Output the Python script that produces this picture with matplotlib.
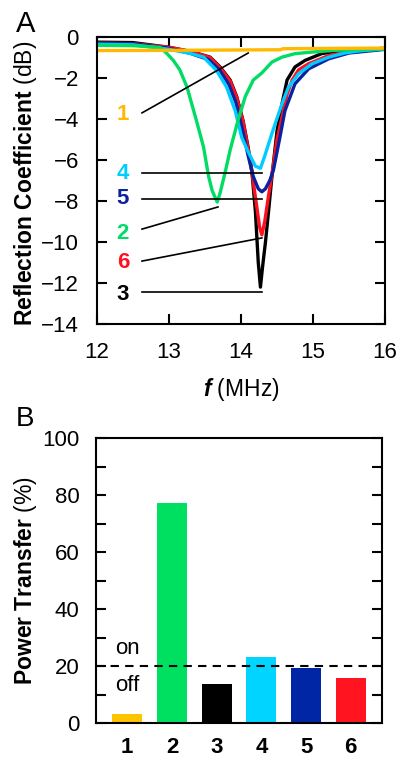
import matplotlib
matplotlib.use("Agg")
import matplotlib.pyplot as plt

plt.rcParams["font.family"] = ["Liberation Sans", "DejaVu Sans"]
plt.rcParams["mathtext.fontset"] = "custom"
plt.rcParams["mathtext.rm"] = "Liberation Sans"
plt.rcParams["mathtext.bf"] = "Liberation Sans:bold"
plt.rcParams["mathtext.it"] = "Liberation Sans:italic"
plt.rcParams["mathtext.bfit"] = "Liberation Sans:bold:italic"

# ---- panel A: reflection spectra ----
F1 = [12.0, 13.0, 14.0, 14.55, 14.58, 15.0, 16.0]
S1 = [-0.66, -0.65, -0.63, -0.62, -0.57, -0.56, -0.54]

F2 = [12.0, 12.5, 12.875, 12.97, 13.06, 13.15, 13.25, 13.38, 13.48, 13.55, 13.6, 13.67,
      13.71, 13.78, 13.85, 13.96, 14.06, 14.17, 14.29, 14.43, 14.57, 14.75, 15.0, 15.3, 16.0]
S2 = [-0.4, -0.42, -0.5, -0.8, -1.14, -1.6, -2.44, -4.06, -5.37, -6.8, -7.5, -8.05,
      -7.6, -6.6, -5.5, -4.05, -2.9, -2.1, -1.75, -1.22, -0.98, -0.81, -0.73, -0.65, -0.58]

F3 = [12.0, 12.5, 13.0, 13.3, 13.57, 13.71, 13.85, 13.94, 14.03, 14.1, 14.15, 14.2, 14.24,
      14.27, 14.3, 14.34, 14.38, 14.43, 14.5, 14.57, 14.64, 14.75, 14.89, 15.12, 15.36, 15.7, 16.0]
S3 = [-0.25, -0.27, -0.5, -0.7, -0.98, -1.46, -2.1, -2.9, -4.1, -5.4, -6.5, -8.5, -11.0,
      -12.2, -11.2, -10.0, -8.6, -6.8, -4.6, -3.25, -2.1, -1.46, -1.14, -0.81, -0.68, -0.6, -0.55]

F4 = [12.0, 12.5, 13.0, 13.3, 13.48, 13.66, 13.8, 13.92, 14.01, 14.1, 14.2, 14.27, 14.33,
      14.43, 14.57, 14.66, 14.8, 14.99, 15.22, 15.44, 15.63, 16.0]
S4 = [-0.35, -0.38, -0.6, -0.8, -0.98, -1.63, -2.44, -3.6, -4.9, -5.6, -6.3, -6.4, -5.8,
      -4.7, -3.25, -2.44, -1.79, -1.3, -0.98, -0.78, -0.68, -0.58]

F5 = [12.0, 12.5, 13.0, 13.3, 13.55, 13.7, 13.83, 13.93, 14.02, 14.1, 14.17, 14.24, 14.29,
      14.34, 14.4, 14.45, 14.54, 14.61, 14.75, 14.94, 15.22, 15.5, 16.0]
S5 = [-0.3, -0.33, -0.55, -0.8, -1.1, -1.6, -2.3, -3.2, -4.5, -5.8, -6.8, -7.4, -7.55,
      -7.4, -7.0, -6.5, -4.9, -3.6, -2.28, -1.55, -1.06, -0.78, -0.6]

F6 = [12.0, 12.5, 13.0, 13.3, 13.57, 13.71, 13.85, 13.94, 14.03, 14.1, 14.16, 14.22, 14.26,
      14.29, 14.33, 14.38, 14.43, 14.5, 14.57, 14.64, 14.71, 14.8, 14.94, 15.22, 15.5, 16.0]
S6 = [-0.3, -0.32, -0.5, -0.7, -1.0, -1.5, -2.15, -2.95, -4.15, -5.5, -6.8, -8.3, -9.3,
      -9.65, -9.0, -7.8, -6.7, -5.0, -3.9, -2.8, -2.1, -1.6, -1.3, -0.9, -0.72, -0.58]

# label text positions and leader-line end points
LABELS = ["1", "4", "5", "2", "6", "3"]
LABEL_Y = [-3.8, -6.65, -7.9, -9.56, -11.0, -12.55]
LEADER_Y0 = [-3.7, -6.63, -7.9, -9.37, -10.93, -12.44]
LEADER_X1 = [14.1, 14.29, 14.29, 13.68, 14.29, 14.29]
LEADER_Y1 = [-0.78, -6.63, -7.9, -8.29, -9.8, -12.44]

# ---- panel B: power transfer ----
DEVICES = ["1", "2", "3", "4", "5", "6"]
POWER = [3.0, 77.2, 13.7, 23.0, 19.2, 15.7]
THRESHOLD = 20

COLORS = {
    "1": "#FFB900",
    "2": "#00DC64",
    "3": "#000000",
    "4": "#00CCFF",
    "5": "#0A229E",
    "6": "#FF1020",
}
BAR_COLORS = {
    "1": "#FFC400",
    "2": "#00E060",
    "3": "#000000",
    "4": "#00D4FF",
    "5": "#0026A6",
    "6": "#FF1420",
}

TICK_SIZE = 16
LABEL_SIZE = 16.5

fig = plt.figure(figsize=(3.98, 7.59), dpi=100)
axA = fig.add_axes([0.2437, 0.5731, 0.7236, 0.3781])
axB = fig.add_axes([0.2412, 0.0474, 0.7186, 0.3755])

for ax in (axA, axB):
    for sp in ax.spines.values():
        sp.set_linewidth(1.5)

# panel A
curves = [(F3, S3, "3"), (F6, S6, "6"), (F5, S5, "5"), (F4, S4, "4"), (F2, S2, "2"), (F1, S1, "1")]
for f, s, key in curves:
    axA.plot(f, s, color=COLORS[key], lw=2.4, solid_joinstyle="round")

for lab, ly, y0, x1, y1 in zip(LABELS, LABEL_Y, LEADER_Y0, LEADER_X1, LEADER_Y1):
    axA.text(12.36, ly, lab, color=COLORS[lab], fontsize=TICK_SIZE, fontweight="bold",
             ha="center", va="center")
    axA.plot([12.625, x1], [y0, y1], color="black", lw=1.2)

axA.set_xlim(12, 16)
axA.set_ylim(-14, 0)
axA.set_xticks([12, 13, 14, 15, 16])
axA.set_yticks(range(-14, 1, 2))
axA.tick_params(direction="in", length=7, width=1.5, top=True, right=True,
                labelsize=TICK_SIZE)
axA.tick_params(axis="x", pad=13)
axA.tick_params(axis="y", pad=13)
axA.set_xlabel(r"$\mathbfit{f}$ (MHz)", fontsize=LABEL_SIZE, labelpad=9)
axA.set_ylabel(r"$\mathbf{Reflection\ Coefficient}$ (dB)", fontsize=LABEL_SIZE)
axA.yaxis.set_label_coords(-0.2, 0.49)
fig.text(0.04, 0.969, "A", fontsize=21, ha="left", va="center")

# panel B
x = range(1, len(DEVICES) + 1)
axB.bar(x, POWER, width=0.67, color=[BAR_COLORS[d] for d in DEVICES])
axB.axhline(THRESHOLD, color="black", lw=1.5, ls=(0, (4, 3)))
axB.text(1, 26.3, "on", fontsize=TICK_SIZE, ha="center", va="center")
axB.text(1, 13.3, "off", fontsize=TICK_SIZE, ha="center", va="center")
axB.set_xlim(0.3, 6.7)
axB.set_ylim(0, 100)
axB.set_xticks(list(x))
axB.set_xticklabels(DEVICES, fontweight="bold")
axB.set_yticks(range(0, 101, 20))
axB.set_yticks(range(10, 100, 20), minor=True)
axB.tick_params(axis="x", length=0, labelsize=TICK_SIZE, pad=10)
axB.tick_params(axis="y", which="both", direction="in", length=7, width=1.5,
                right=True, labelsize=TICK_SIZE, pad=12)
axB.set_ylabel(r"$\mathbf{Power\ Transfer}$ (%)", fontsize=LABEL_SIZE)
axB.yaxis.set_label_coords(-0.2, 0.5)
fig.text(0.04, 0.448, "B", fontsize=20, ha="left", va="center")

fig.savefig("out.png", dpi=100)
